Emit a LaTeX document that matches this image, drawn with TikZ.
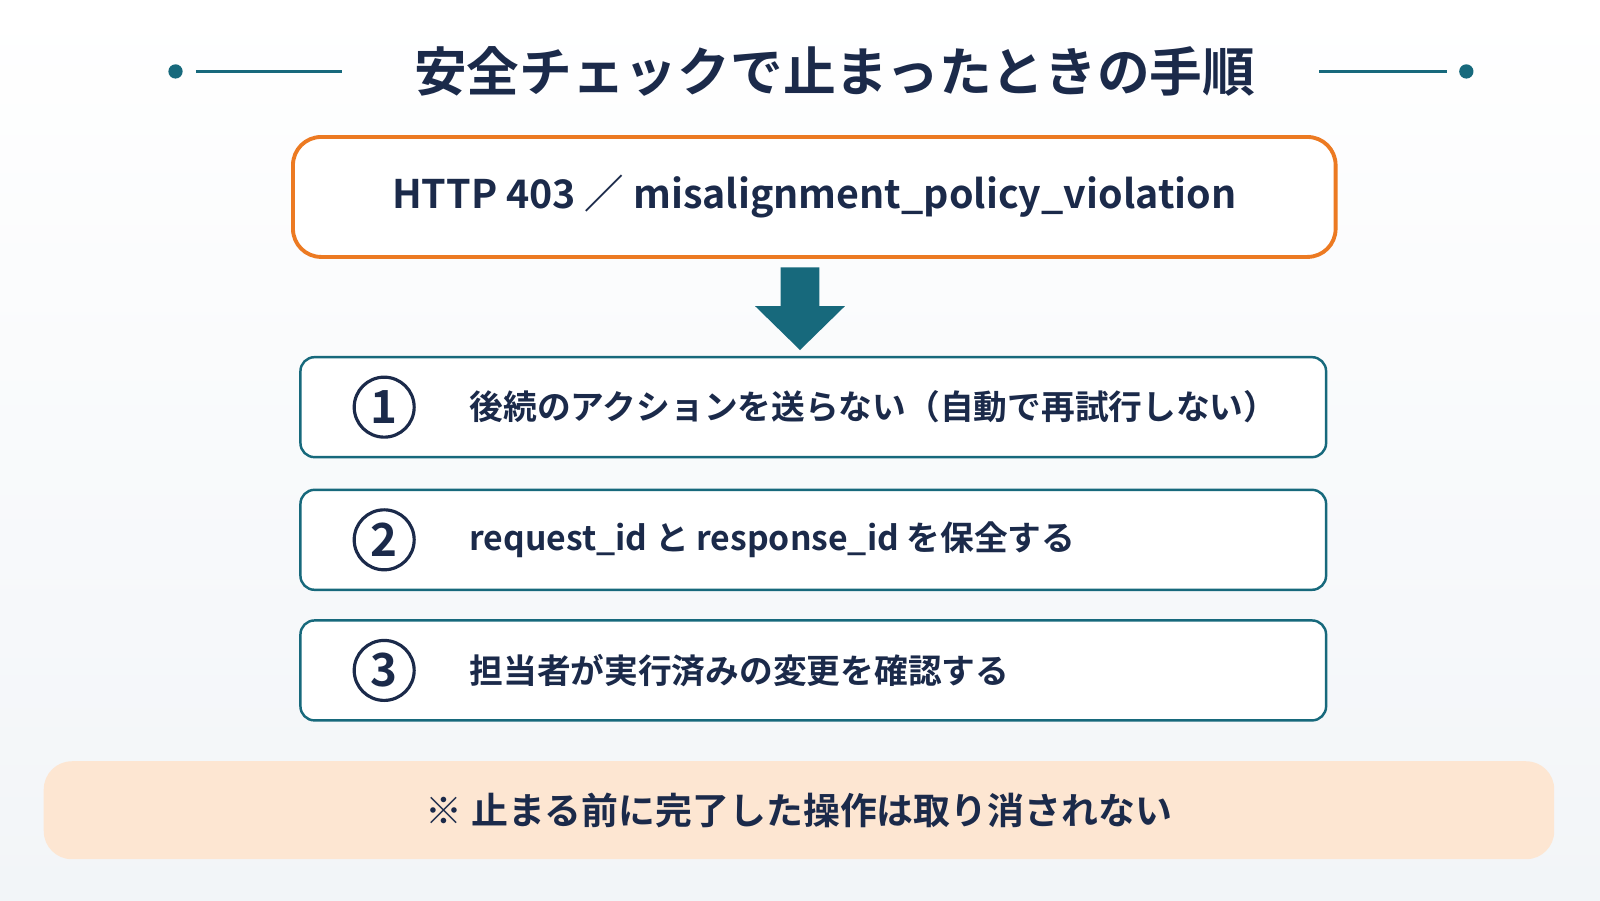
\documentclass[tikz,border=0pt]{standalone}
\usepackage{fontspec}
\setmainfont{Noto Sans CJK JP}[BoldFont={* Bold}]
\usetikzlibrary{positioning}
\definecolor{navy}{HTML}{1B2A4A}
\definecolor{teal}{HTML}{17697C}
\definecolor{orangeline}{HTML}{EC7A22}
\definecolor{peach}{HTML}{FDE6D2}
\definecolor{bgbot}{HTML}{F2F5F8}
\begin{document}
\begin{tikzpicture}
      [
      x=0.010204cm,y=-0.010204cm,
      title/.style={font=\fontsize{15}{18}\selectfont\bfseries,text=navy},
      stepbox/.style={draw=teal,line width=0.7pt,rounded corners=4pt,minimum width=10.26cm,minimum height=1cm,fill=white},
      num/.style={circle,draw=navy,line width=0.9pt,minimum size=0.6cm,inner sep=0pt,text=navy,font=\fontsize{13}{13}\selectfont\bfseries},
      txt/.style={text=navy,font=\fontsize{9.6}{12}\selectfont\bfseries,anchor=west}
      ]
      \shade[top color=white,bottom color=bgbot] (0,0) rectangle (1568,882);
      \useasboundingbox (0,0) rectangle (1568,882);
      % title
      \node (title) at (818,70) [title] {安全チェックで止まったときの手順};
      \fill[teal] (172,70) circle (7);
      \fill[teal] (1437,70) circle (7);
      \draw[teal,line width=0.8pt] (192,70) -- (335,70);
      \draw[teal,line width=0.8pt] (1293,70) -- (1418,70);
      % error box
      \node (err) at (798,193) [draw=orangeline,line width=1.1pt,rounded corners=8pt,fill=white,minimum width=10.43cm,minimum height=1.2cm,text=navy,font=\fontsize{11.2}{14}\selectfont\bfseries] {HTTP 403 ／ misalignment\_policy\_violation};
      % steps
      \node (s1) at (797,399) [stepbox] {};
      \node (s2) at (797,529) [stepbox] {};
      \node (s3) at (797,657) [stepbox] {};
      \foreach \i/\t in {1/後続のアクションを送らない（自動で再試行しない）,2/request\_id と response\_id を保全する,3/担当者が実行済みの変更を確認する}{
        \node (n\i) at ([xshift=0.85cm]s\i.west) [num] {\i};
        \node (t\i) at ([xshift=1.58cm]s\i.west) [txt] {\t};
      }
      % block arrow
      \fill[teal] (765,262) -- (803,262) -- (803,300) -- (828,300) -- (784,343) -- (740,300) -- (765,300) -- cycle;
      % note
      \node (note) at (783,794) [fill=peach,rounded corners=8pt,minimum width=15.11cm,minimum height=0.98cm,text=navy,font=\fontsize{10.5}{13}\selectfont\bfseries] {※ 止まる前に完了した操作は取り消されない};
    \end{tikzpicture}
\end{document}
